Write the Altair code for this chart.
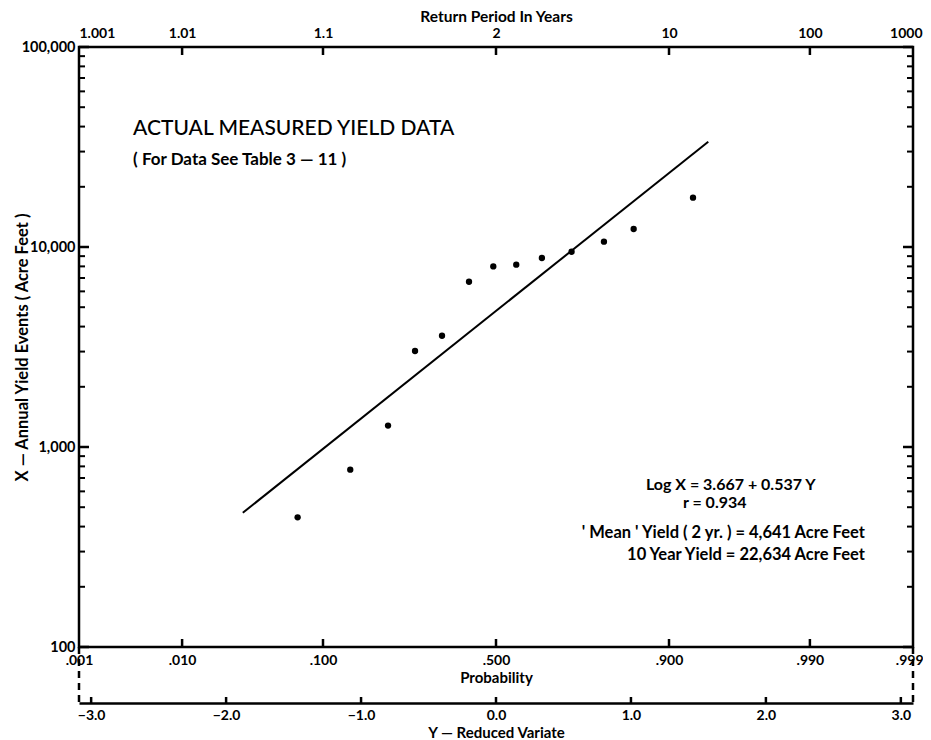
import json
import altair as alt
import pandas as pd

# ---- data ----
reduced_variate = [-1.47, -1.08, -0.80, -0.60, -0.40, -0.20, -0.02, 0.15, 0.34, 0.56, 0.80, 1.02, 1.46]
annual_yield = [445, 770, 1280, 3020, 3600, 6700, 8000, 8160, 8810, 9470, 10630, 12300, 17640]

fit_variate = [-1.876, 1.573]
fit_yield = [469, 33600]

# ---- axis ticks / labels ----
prob_positions = [-3.09, -2.326, -1.282, 0.0, 1.282, 2.326, 3.09]
prob_labels = [".001", ".010", ".100", ".500", ".900", ".990", ".999"]
return_labels = ["1.001", "1.01", "1.1", "2", "10", "100", "1000"]
variate_ticks = [-3, -2, -1, 0, 1, 2, 3]
variate_labels = ["\u22123.0", "\u22122.0", "\u22121.0", "0.0", "1.0", "2.0", "3.0"]
yield_major = [100, 1000, 10000, 100000]
yield_minor = [m * d for d in (100, 1000, 10000) for m in range(2, 10)]

# ---- annotations (anchored in data units) ----
note_left_text = ["ACTUAL MEASURED YIELD DATA"]
note_left_y = [-2.689]
note_left_x = [36300]

sub_text = ["( For Data See Table 3 \u2014 11 )"]
sub_y = [-2.689]
sub_x = [25700]

eq_text = ["Log X = 3.667 + 0.537 Y", "r = 0.934"]
eq_y = [1.111, 1.385]
eq_x = [612, 495]

right_text = ["' Mean ' Yield ( 2 yr. ) = 4,641 Acre Feet", "10 Year Yield = 22,634 Acre Feet"]
right_y = [2.733, 2.733]
right_x = [351, 272]

W, H = 834, 600
RV_OFFSET = 56
FONT = "Lato"


def lookup(values, labels):
    return f"{json.dumps(labels)}[indexof({json.dumps(values)}, datum.value)]"


x_scale = alt.Scale(domain=[-3.09, 3.09], nice=False, zero=False)
y_scale = alt.Scale(type="log", domain=[100, 100000], nice=False)

points_df = pd.DataFrame({"Y": reduced_variate, "X": annual_yield})
fit_df = pd.DataFrame({"Y": fit_variate, "X": fit_yield})

points = alt.Chart(points_df).mark_circle(size=40, color="black", opacity=1).encode(
    x=alt.X("Y:Q", scale=x_scale, axis=None),
    y=alt.Y(
        "X:Q",
        scale=y_scale,
        axis=alt.Axis(
            orient="left", values=yield_major, format=",d", ticks=False, domain=False,
            grid=False, labelPadding=4, labelFontSize=14.5, labelFlush=False,
            labelOverlap=False, title="X \u2014 Annual Yield Events ( Acre Feet )",
            titleFontSize=16.5, titleX=-57, titleY=H / 2, titleAngle=270,
            titleAlign="center", titleBaseline="middle",
        ),
    ),
)

fit = alt.Chart(fit_df).mark_line(color="black", strokeWidth=2).encode(
    x=alt.X("Y:Q", scale=x_scale, axis=None),
    y=alt.Y("X:Q", scale=y_scale, axis=None),
)

major_df = pd.DataFrame({"v": yield_major})
minor_df = pd.DataFrame({"v": yield_minor})


def ytick(df, x0, x1, sw):
    return alt.Chart(df).mark_rule(color="black", strokeWidth=sw).encode(
        y=alt.Y("v:Q", scale=y_scale, axis=None), x=alt.value(x0), x2=alt.value(x1)
    )


yticks = [
    ytick(major_df, 0, 10, 2.5),
    ytick(minor_df, 0, 6, 2),
    ytick(major_df, W, W - 10, 2.5),
    ytick(minor_df, W, W - 6, 2),
]

inner_df = pd.DataFrame({"p": prob_positions[1:-1]})

corner_align = {
    "condition": [
        {"test": "datum.value < -3", "value": "left"},
        {"test": "datum.value > 3", "value": "right"},
    ],
    "value": "center",
}
corner_offset = {"condition": {"test": "datum.value > 3", "value": 9}, "value": 0}

top = alt.Chart(inner_df).mark_rule(color="black", strokeWidth=2.5).encode(
    x=alt.X(
        "p:Q",
        scale=x_scale,
        axis=alt.Axis(
            orient="top", values=prob_positions, labelExpr=lookup(prob_positions, return_labels),
            ticks=False, domain=False, grid=False, labelPadding=7, labelFontSize=14,
            labelFlush=False, labelOverlap=False, labelAlign=corner_align,
            labelOffset=corner_offset,
            title="Return Period In Years", titleFontSize=15.5,
            titleY=-26, titleBaseline="alphabetic",
        ),
    ),
    y=alt.value(0),
    y2=alt.value(8),
)

bottom = alt.Chart(inner_df).mark_rule(color="black", strokeWidth=2.5).encode(
    x=alt.X(
        "p:Q",
        scale=x_scale,
        axis=alt.Axis(
            orient="bottom", values=prob_positions, labelExpr=lookup(prob_positions, prob_labels),
            ticks=False, domain=False, grid=False, labelPadding=6, labelFontSize=14,
            labelFlush=False, labelOverlap=False,
            labelAlign={"condition": {"test": "datum.value > 3", "value": "right"}, "value": "center"},
            labelOffset={"condition": {"test": "datum.value > 3", "value": 10}, "value": 0},
            title="Probability", titleFontSize=15, titlePadding=3,
        ),
    ),
    y=alt.value(H),
    y2=alt.value(H - 8),
)

rv_df = pd.DataFrame({"v": variate_ticks})
rv = alt.Chart(rv_df).mark_rule(color="black", strokeWidth=2.5).encode(
    x=alt.X(
        "v:Q",
        scale=x_scale,
        axis=alt.Axis(
            orient="bottom", offset=RV_OFFSET, values=variate_ticks,
            labelExpr=lookup(variate_ticks, variate_labels),
            ticks=False, domain=True, domainColor="black", domainWidth=2.5, grid=False,
            labelPadding=5, labelFontSize=14, labelFlush=False, labelOverlap=False,
            title="Y \u2014 Reduced Variate", titleFontSize=15,
            titleY=34, titleBaseline="alphabetic",
        ),
    ),
    y=alt.value(H + RV_OFFSET),
    y2=alt.value(H + RV_OFFSET - 6),
)

corner_df = pd.DataFrame({"v": [prob_positions[0], prob_positions[-1]]})
corners = alt.Chart(corner_df).mark_rule(color="black", strokeWidth=2.5, strokeDash=[7, 5]).encode(
    x=alt.X("v:Q", scale=x_scale, axis=None),
    y=alt.value(H),
    y2=alt.value(H + RV_OFFSET),
)


def notes(text, xs, ys, size, weight, align):
    df = pd.DataFrame({"t": text, "Y": xs, "X": ys})
    return alt.Chart(df).mark_text(
        font=FONT, fontSize=size, fontWeight=weight, align=align, baseline="alphabetic", color="black"
    ).encode(
        x=alt.X("Y:Q", scale=x_scale, axis=None),
        y=alt.Y("X:Q", scale=y_scale, axis=None),
        text="t:N",
    )


title_note = notes(note_left_text, note_left_y, note_left_x, 21, 500, "left")
sub_notes = notes(sub_text, sub_y, sub_x, 17, "bold", "left")
eq_notes = notes(eq_text, eq_y, eq_x, 16, "bold", "left")
right_notes = notes(right_text, right_y, right_x, 16.5, "bold", "right")

chart = (
    alt.layer(points, fit, *yticks, top, bottom, rv, corners, title_note, sub_notes, eq_notes, right_notes)
    .resolve_axis(x="independent", y="independent")
    .properties(
        width=W,
        height=H,
        autosize=alt.AutoSizeParams(type="none"),
        padding={"left": 71, "top": 39, "right": 10, "bottom": 93},
        background="white",
    )
    .configure_view(stroke="black", strokeWidth=2.5)
    .configure_axis(
        labelFont=FONT, titleFont=FONT, labelColor="black", titleColor="black",
        labelFontWeight="bold", titleFontWeight="bold",
    )
)

chart.save("out.html", embed_options={"renderer": "svg", "actions": False})
